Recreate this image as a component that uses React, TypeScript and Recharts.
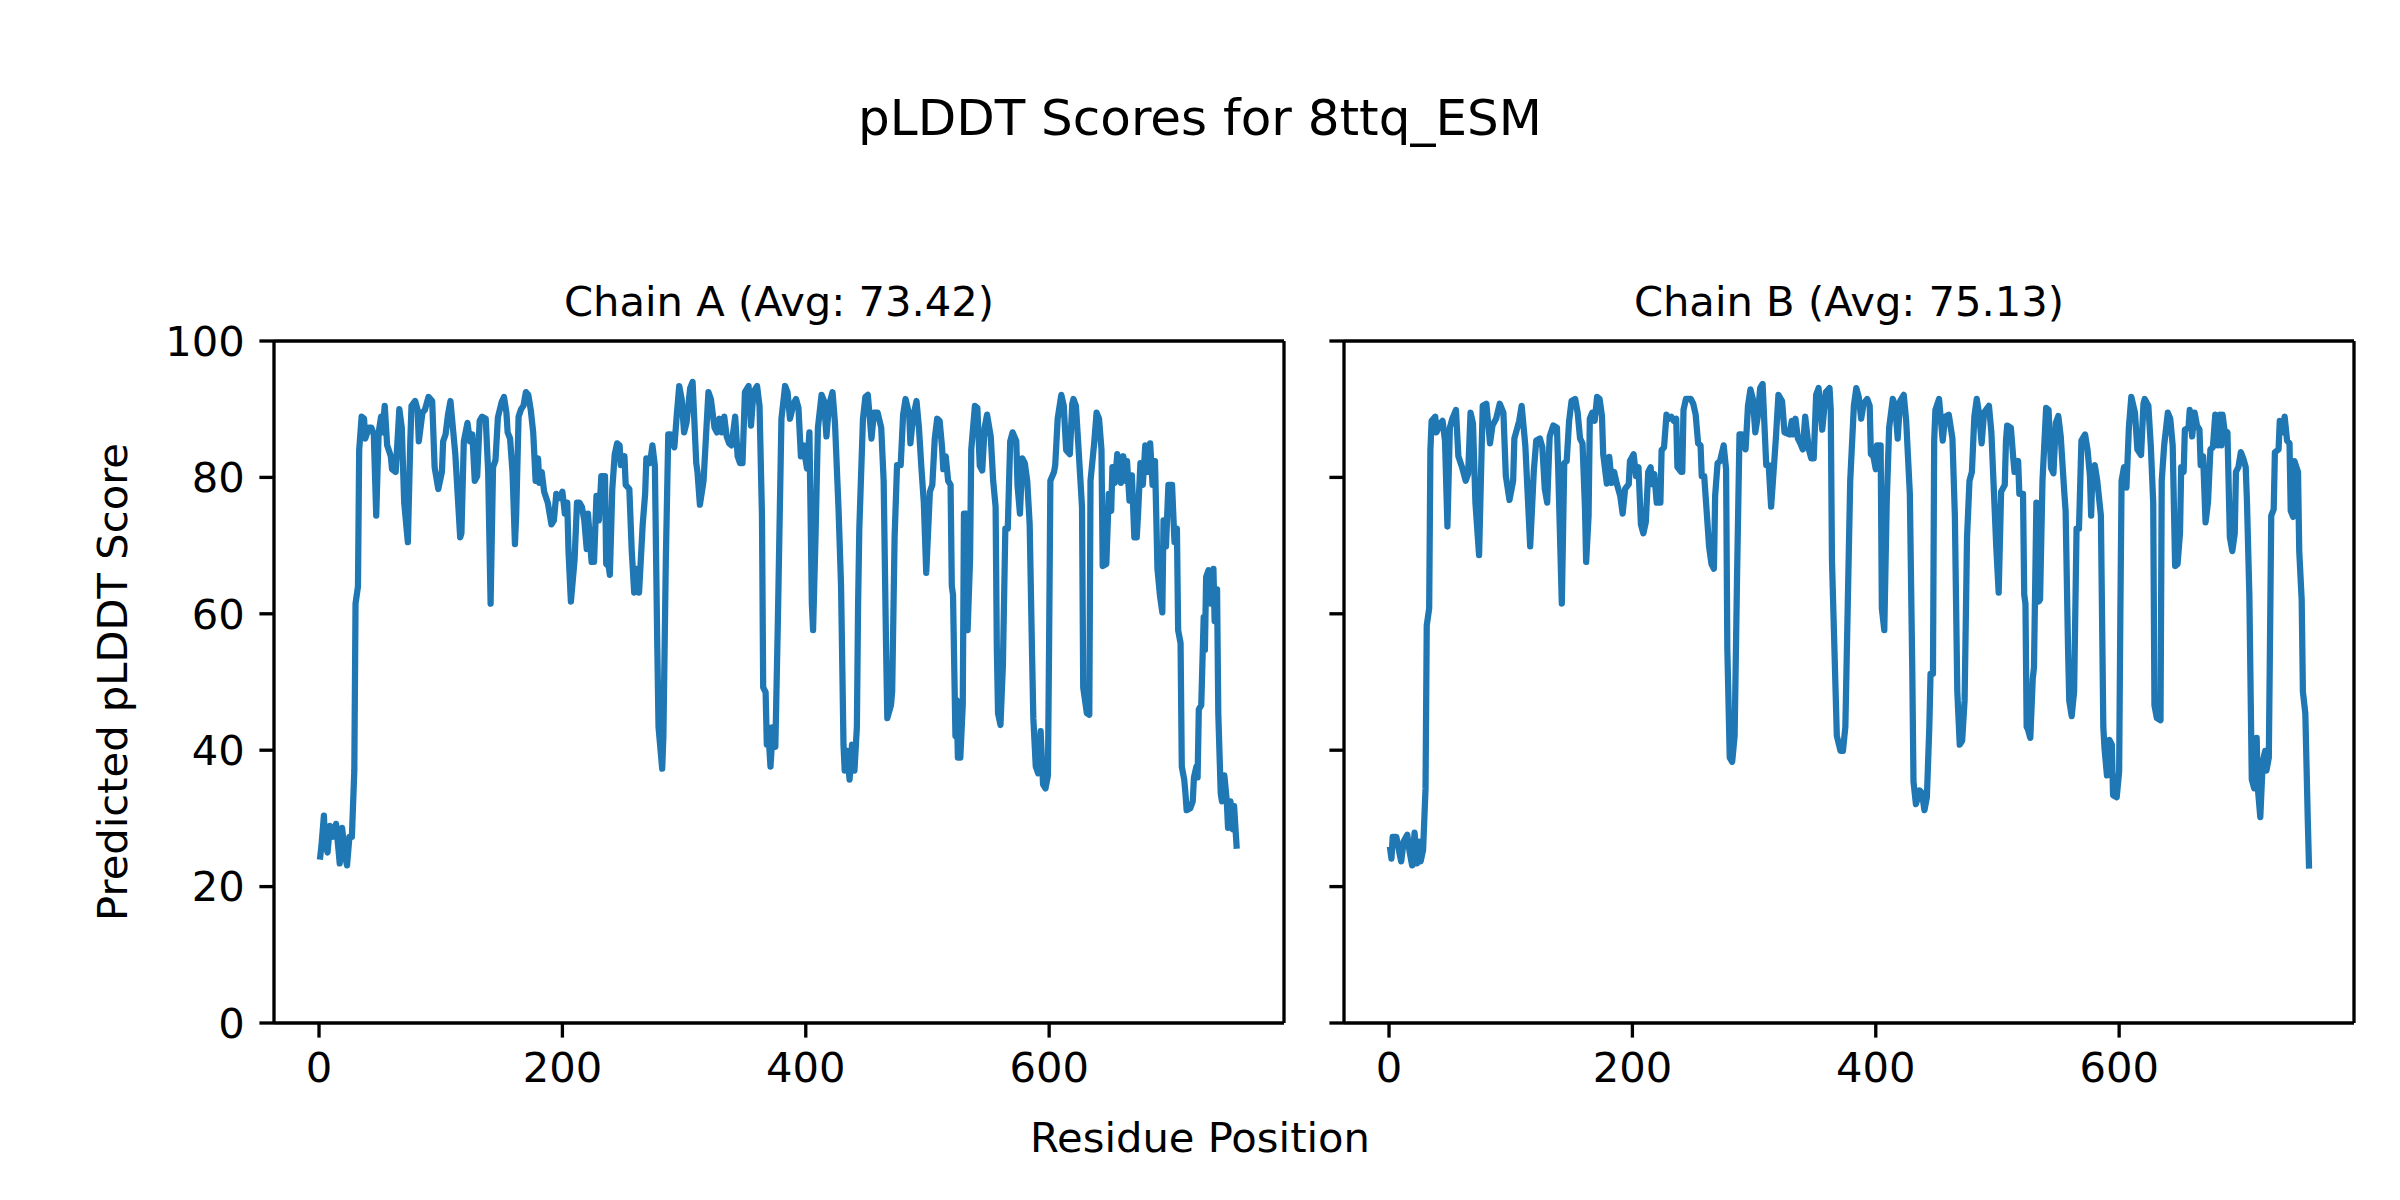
import React from "react"
import { LineChart, Line, XAxis, YAxis, ReferenceLine } from "recharts"

// pLDDT per residue as [residue, score]
const chainA: [number, number][] = [
  [1, 24.4], [2, 26], [4, 30.4], [5, 26.6], [7, 25], [9, 28.9], [11, 27.3], [14, 29.2], [16, 25.4], [17, 23.4],
  [19, 28.6], [21, 25], [23, 23.1], [25, 27.3], [27, 27.3], [29, 37], [30, 61.5], [32, 64], [33, 84], [35, 88.9],
  [37, 88.6], [38, 85.7], [41, 87.3], [43, 87.3], [45, 86.3], [47, 74.4], [49, 86.6], [51, 88.9], [52, 86.6], [54, 90.5],
  [56, 84.7], [59, 83.1], [60, 81.2], [63, 80.8], [66, 90], [68, 87.3], [70, 76.3], [73, 70.5], [75, 85.3], [76, 90.5],
  [79, 91.2], [81, 89.9], [82, 85.3], [85, 89.5], [87, 89.9], [90, 91.8], [93, 91.2], [95, 81.5], [98, 78.3], [101, 80.8],
  [102, 85.3], [104, 86.3], [106, 89.2], [108, 91.2], [112, 83.4], [116, 71.2], [117, 71.8], [119, 85.3], [122, 88], [124, 85.3],
  [126, 86.3], [128, 79.5], [130, 80.2], [132, 88.3], [134, 88.9], [137, 88.6], [139, 80.8], [141, 61.5], [143, 81.5], [145, 82.5],
  [147, 88.8], [150, 91], [152, 91.8], [154, 89.5], [155, 86.6], [157, 85.7], [159, 80.8], [161, 70.2], [162, 74.4], [164, 88.9],
  [166, 90], [168, 90.5], [170, 92.5], [172, 92.1], [174, 89.9], [176, 86.6], [178, 79.5], [180, 82.8], [181, 79.2], [183, 80.8],
  [185, 77.9], [188, 76.3], [191, 73.1], [193, 73.7], [195, 77.6], [198, 77], [200, 77.9], [202, 74.7], [204, 76.3], [205, 69.2],
  [207, 61.8], [210, 67.9], [212, 76.3], [214, 76.3], [216, 75.7], [218, 73.7], [220, 69.5], [221, 74.7], [224, 67.6], [226, 67.6],
  [228, 77.3], [230, 73.7], [232, 80.2], [235, 80.2], [236, 67.3], [238, 67], [239, 65.7], [241, 78.3], [243, 83.4], [245, 85],
  [247, 84.7], [248, 81.8], [251, 83.1], [252, 78.9], [255, 78.3], [257, 69.2], [259, 63.1], [261, 66.6], [263, 63.1], [266, 73.1],
  [268, 77.6], [269, 82.8], [272, 82.1], [274, 84.7], [276, 81.7], [278, 55], [279, 43.4], [282, 37.3], [283, 42.1], [285, 67.9],
  [287, 86.3], [289, 86.3], [292, 84.4], [294, 89.2], [296, 93.4], [298, 91.5], [300, 86.6], [302, 88], [305, 93.1], [307, 94],
  [310, 82.1], [311, 80.8], [313, 76], [316, 79.5], [318, 86], [320, 92.5], [322, 91.5], [325, 87.3], [327, 86.6], [329, 88.6],
  [331, 86.6], [333, 88.9], [335, 86], [337, 85], [339, 84.7], [342, 88.9], [344, 83.1], [346, 82.1], [348, 82.1], [350, 92.5],
  [353, 93.4], [355, 87.6], [357, 92.5], [360, 93.4], [362, 90.5], [364, 74.4], [365, 49.2], [367, 48.5], [368, 40.8], [369, 43.4],
  [371, 37.6], [373, 43.4], [375, 40.5], [377, 58.3], [380, 88.6], [383, 93.4], [385, 92.5], [387, 88.6], [390, 90.8], [392, 91.5],
  [394, 90.2], [396, 83.1], [398, 84.7], [401, 81.3], [403, 86.6], [405, 61.5], [406, 57.6], [408, 71.2], [410, 87.3], [413, 92.1],
  [415, 91.2], [417, 86], [419, 90.5], [422, 92.5], [424, 88], [427, 75], [429, 64.1], [431, 40.8], [432, 37], [434, 39.9],
  [436, 35.7], [438, 40.8], [440, 37], [442, 43.4], [443, 61.5], [444, 72.5], [447, 88.6], [449, 91.8], [451, 92.1], [454, 85.7],
  [456, 89.5], [459, 89.5], [462, 87.3], [464, 79.5], [466, 55], [467, 44.7], [470, 46.6], [471, 48.6], [473, 71.2], [475, 81.8],
  [478, 81.8], [480, 89.2], [482, 91.5], [485, 89.2], [486, 85], [488, 88.6], [491, 91.2], [493, 87.3], [495, 81.5], [497, 76.3],
  [499, 66], [502, 77.9], [504, 78.9], [506, 85.7], [508, 88.6], [510, 88.3], [512, 84.4], [513, 81.2], [515, 83.1], [517, 79.5],
  [519, 78.9], [520, 64.1], [521, 62.8], [523, 42.1], [524, 47.3], [525, 38.9], [527, 38.9], [529, 46.6], [530, 74.7], [532, 74.7],
  [533, 57.6], [535, 67.9], [536, 84.1], [539, 90.5], [541, 90.2], [543, 81.7], [545, 81], [547, 87.3], [549, 89.2], [552, 86],
  [554, 79.5], [556, 75.7], [557, 55], [558, 45.4], [560, 43.7], [562, 52.5], [564, 72.5], [566, 72.5], [568, 85.3], [570, 86.6],
  [573, 85.3], [574, 78.9], [576, 74.7], [578, 82.8], [580, 82.1], [582, 79.5], [584, 73.1], [586, 53.7], [587, 44.7], [589, 37.6],
  [591, 36.6], [593, 42.8], [595, 35], [597, 34.4], [599, 36.3], [600, 56.3], [601, 79.5], [604, 80.8], [605, 81.8], [607, 88.6],
  [610, 92.1], [612, 90.5], [614, 84], [617, 83.4], [619, 90.8], [620, 91.5], [622, 90.5], [624, 84.7], [627, 75.7], [628, 49.2],
  [631, 45.4], [633, 45.2], [634, 79.5], [637, 85], [639, 89.5], [641, 88.6], [643, 84.1], [644, 67], [647, 67.3], [649, 77.6],
  [651, 75.1], [652, 81.5], [654, 79.2], [656, 83.4], [659, 79.2], [661, 83.1], [663, 79.5], [664, 82.4], [666, 76.6], [668, 80.3],
  [670, 71.2], [672, 71.2], [673, 74.4], [675, 82.1], [677, 78.9], [679, 84.7], [681, 80.8], [683, 85], [685, 78.9], [687, 82.4],
  [689, 66.6], [691, 62.8], [693, 60.2], [694, 73.7], [696, 69.9], [698, 78.9], [701, 78.9], [703, 70.5], [705, 72.5], [706, 57.6],
  [708, 55.7], [709, 37.6], [711, 35.7], [712, 33.7], [713, 31.2], [716, 31.5], [718, 32.5], [719, 36], [721, 37.6], [722, 36],
  [723, 46], [725, 46.6], [727, 59.5], [728, 54.7], [729, 65.4], [731, 66.4], [733, 61.5], [735, 66.6], [736, 58.9], [738, 63.6],
  [739, 45.4], [741, 33.7], [742, 32.5], [744, 36.3], [746, 32.5], [747, 28.6], [749, 32.5], [751, 28.4], [752, 31.8], [754, 26],
]

const chainB: [number, number][] = [
  [1, 25.4], [2, 24.1], [3, 27.3], [6, 27.3], [8, 25.4], [10, 23.7], [12, 26.6], [15, 27.6], [17, 25], [19, 23.1],
  [21, 27.9], [23, 23.4], [25, 26.6], [26, 23.7], [28, 25.4], [30, 34.4], [31, 58.3], [33, 60.8], [34, 84], [35, 88.3],
  [38, 88.9], [39, 86.6], [42, 87.9], [44, 88.3], [46, 85.4], [48, 72.8], [50, 87.3], [52, 88.6], [55, 89.9], [57, 83.1],
  [60, 81.5], [63, 79.5], [65, 80.5], [67, 89.5], [69, 87.9], [71, 76.3], [74, 68.6], [76, 83.4], [77, 90.5], [80, 90.8],
  [83, 85], [85, 87.6], [88, 88.6], [91, 90.8], [94, 89.5], [96, 80.2], [99, 76.7], [102, 79.5], [103, 85.7], [107, 88.3],
  [109, 90.5], [112, 84.7], [116, 69.9], [119, 81], [121, 85.4], [124, 85.7], [126, 84.4], [128, 78.3], [130, 76.3], [132, 86],
  [135, 87.6], [138, 87.3], [139, 81.5], [142, 61.5], [144, 82.1], [146, 82.4], [148, 88.3], [150, 91.2], [153, 91.5], [155, 89.5],
  [157, 85.7], [159, 85], [161, 75.7], [162, 67.6], [164, 74.4], [165, 88.6], [167, 89.5], [169, 88.3], [171, 91.8], [173, 91.5],
  [175, 89], [176, 83.4], [179, 79.1], [181, 83], [183, 79.2], [185, 80.8], [187, 79.2], [190, 77.3], [192, 74.7], [194, 78.3],
  [197, 79], [198, 82.4], [201, 83.4], [203, 80.2], [205, 81.5], [207, 73.1], [209, 71.8], [211, 73.4], [213, 80.8], [215, 81.5],
  [216, 79], [218, 80.5], [220, 76.3], [223, 76.3], [224, 84], [226, 84.4], [228, 89.2], [230, 88.6], [232, 88.9], [234, 88.3],
  [236, 88.6], [237, 81.5], [240, 80.8], [241, 80.8], [242, 89.9], [244, 91.5], [248, 91.5], [250, 90.8], [252, 89.2], [254, 85],
  [256, 84.7], [257, 80.2], [259, 80.2], [261, 75.1], [263, 69.9], [265, 67.3], [267, 66.6], [268, 77.3], [270, 82.1], [272, 82.4],
  [275, 84.7], [277, 81.2], [278, 55], [280, 38.9], [282, 38.3], [284, 42.1], [286, 65.4], [288, 86.3], [290, 86.3], [293, 84.1],
  [295, 90.5], [297, 92.9], [299, 91.5], [301, 86.6], [303, 88.9], [305, 93.1], [307, 93.7], [310, 81.8], [312, 81.8], [314, 75.7],
  [316, 80.8], [318, 86], [320, 92.1], [323, 91.2], [325, 86.6], [329, 86.3], [331, 88.3], [332, 86.3], [334, 88.6], [336, 85.7],
  [338, 85], [340, 84.1], [342, 88.9], [345, 84.1], [347, 82.8], [349, 82.8], [351, 92.1], [353, 93.1], [356, 87], [359, 92.5],
  [362, 93.1], [363, 89.9], [364, 67.9], [366, 55], [368, 42.1], [371, 39.9], [373, 39.9], [375, 43.4], [377, 61.5], [379, 79.5],
  [382, 90.5], [384, 93.1], [386, 91.8], [388, 88.6], [390, 90.8], [393, 91.5], [395, 90.5], [396, 83.4], [398, 83.1], [400, 81.2],
  [401, 84.7], [404, 84.7], [405, 60.8], [407, 57.6], [409, 76.3], [411, 87.3], [414, 91.5], [416, 90.5], [418, 85.7], [420, 91.2],
  [423, 92.1], [425, 88.3], [428, 77.6], [430, 51.8], [431, 35.4], [433, 32.1], [436, 34.1], [438, 33.7], [440, 31.2], [442, 33.1],
  [444, 43.4], [445, 51.2], [447, 51.2], [448, 85.4], [449, 89.9], [452, 91.5], [455, 85.4], [457, 88.9], [460, 89.2], [463, 85.7],
  [465, 74.4], [467, 48.6], [469, 40.8], [471, 41.4], [473, 47.3], [475, 71.2], [477, 79.5], [479, 80.8], [481, 88.9], [483, 91.5],
  [485, 89.2], [487, 85], [489, 89.5], [493, 90.5], [495, 86.6], [497, 78.3], [499, 69.9], [501, 63.1], [503, 77.9], [506, 78.9],
  [507, 85.4], [508, 87.6], [511, 87.3], [513, 82.8], [514, 80.8], [517, 82.4], [518, 77.6], [521, 77.6], [522, 62.8], [523, 61.5],
  [524, 43.4], [525, 43.1], [527, 41.8], [529, 50.5], [530, 52.1], [532, 76.3], [534, 61.8], [535, 62.1], [537, 79.5], [540, 90.2],
  [542, 89.9], [544, 81.4], [546, 80.6], [548, 88], [550, 89], [552, 86], [555, 77.6], [556, 75.1], [558, 55], [559, 47.3],
  [561, 45], [563, 48.6], [565, 72.5], [567, 72.5], [569, 85.4], [572, 86.3], [574, 84.1], [576, 80.2], [577, 74.4], [578, 80.8],
  [580, 81.8], [582, 79.5], [585, 74.4], [587, 43.4], [588, 40.2], [590, 36.3], [592, 41.5], [594, 40.8], [595, 33.4], [598, 33.1],
  [600, 36.9], [601, 60.2], [602, 79.5], [604, 81.5], [606, 78.5], [608, 87.3], [610, 91.8], [613, 89.5], [615, 84.1], [618, 83.3],
  [620, 90.8], [621, 91.5], [624, 90.5], [626, 84.7], [628, 76.3], [629, 46.6], [631, 44.7], [634, 44.4], [635, 79.5], [637, 84.7],
  [640, 89.5], [642, 88.6], [644, 84.7], [646, 67], [648, 67.3], [650, 71.8], [651, 81.5], [653, 80.8], [654, 87], [657, 87.3],
  [658, 89.9], [660, 86], [662, 89.5], [664, 87.6], [666, 87], [667, 81.8], [669, 83.1], [671, 73.4], [673, 76.3], [675, 84.1],
  [677, 84.4], [679, 89.2], [681, 84.7], [683, 89.2], [684, 84.7], [685, 89.2], [687, 86.3], [689, 86.6], [691, 71.2], [693, 69.2],
  [695, 71.8], [696, 80.8], [698, 81.5], [700, 83.7], [702, 82.8], [704, 81.5], [705, 76.7], [707, 62.8], [709, 35.7], [711, 34.4],
  [713, 41.8], [714, 34.4], [716, 30.2], [718, 38.3], [720, 39.9], [721, 37], [723, 38.9], [725, 74.4], [727, 75.3], [728, 83.7],
  [731, 84.1], [732, 88.3], [734, 86.6], [736, 88.9], [738, 85.4], [740, 85], [741, 75.1], [743, 74.2], [744, 82.4], [747, 80.8],
  [748, 69.2], [750, 62.1], [751, 48.6], [753, 45.4], [755, 29.9], [756, 23.1],
]

const chainAvg = { A: 73.42, B: 75.13 }
const xTicks = [0, 200, 400, 600]
const yTicks = [0, 20, 40, 60, 80, 100]
const X_DOMAIN: [number, number] = [-37, 793]

const FONT = "'DejaVu Sans', sans-serif"
const BLUE = "#1f77b4"
const SPINE = 3.33
const TICK = 14.6
const FS = 41.67

const toRows = (pts: [number, number][]) => pts.map(([residue, score]) => ({ residue, score }))

function Panel({ data, left, width, yWidth, marginRight, showYLabels }: any) {
  return (
    <div style={{ position: "absolute", left, top: 0, width, height: 1200 }}>
      <LineChart width={width} height={1200} data={data} margin={{ top: 341, right: marginRight, bottom: 0, left: 0 }}>
        <XAxis
          dataKey="residue"
          type="number"
          domain={X_DOMAIN}
          ticks={xTicks}
          interval={0}
          allowDataOverflow
          height={177}
          tickSize={TICK}
          tickMargin={TICK}
          axisLine={{ stroke: "#000", strokeWidth: SPINE }}
          tickLine={{ stroke: "#000", strokeWidth: SPINE }}
          tick={{ fill: "#000", fontSize: FS, fontFamily: FONT }}
        />
        <YAxis
          type="number"
          domain={[0, 100]}
          ticks={yTicks}
          interval={0}
          width={yWidth}
          tickSize={TICK}
          tickMargin={TICK}
          axisLine={{ stroke: "#000", strokeWidth: SPINE }}
          tickLine={{ stroke: "#000", strokeWidth: SPINE }}
          tick={{ fill: "#000", fontSize: FS, fontFamily: FONT }}
          tickFormatter={showYLabels ? undefined : () => ""}
        />
        <Line
          type="linear"
          dataKey="score"
          stroke={BLUE}
          strokeWidth={6.25}
          strokeLinejoin="round"
          strokeLinecap="square"
          dot={false}
          activeDot={false}
          isAnimationActive={false}
        />
        <ReferenceLine y={100} stroke="#000" strokeWidth={SPINE} />
        <ReferenceLine x={X_DOMAIN[1]} stroke="#000" strokeWidth={SPINE} />
      </LineChart>
    </div>
  )
}

export default function App() {
  const text = { fontFamily: FONT, fill: "#000" }
  return (
    <div style={{ position: "absolute", left: 0, top: 0, width: 2400, height: 1200, background: "#fff", overflow: "hidden" }}>
      <Panel data={toRows(chainA)} left={0} width={1300} yWidth={274} marginRight={16} showYLabels />
      <Panel data={toRows(chainB)} left={1300} width={1100} yWidth={44} marginRight={46} showYLabels={false} />
      <svg width={2400} height={1200} style={{ position: "absolute", left: 0, top: 0, pointerEvents: "none" }}>
        <text x={1200} y={118} textAnchor="middle" dominantBaseline="central" fontSize={50} {...text}>
          pLDDT Scores for 8ttq_ESM
        </text>
        <text x={779} y={301} textAnchor="middle" dominantBaseline="central" fontSize={FS} {...text}>
          {`Chain A (Avg: ${chainAvg.A.toFixed(2)})`}
        </text>
        <text x={1849} y={301} textAnchor="middle" dominantBaseline="central" fontSize={FS} {...text}>
          {`Chain B (Avg: ${chainAvg.B.toFixed(2)})`}
        </text>
        <text x={1200} y={1137} textAnchor="middle" dominantBaseline="central" fontSize={FS} {...text}>
          Residue Position
        </text>
        <text
          x={112}
          y={682}
          textAnchor="middle"
          dominantBaseline="central"
          fontSize={FS}
          transform="rotate(-90 112 682)"
          {...text}
        >
          Predicted pLDDT Score
        </text>
      </svg>
    </div>
  )
}
